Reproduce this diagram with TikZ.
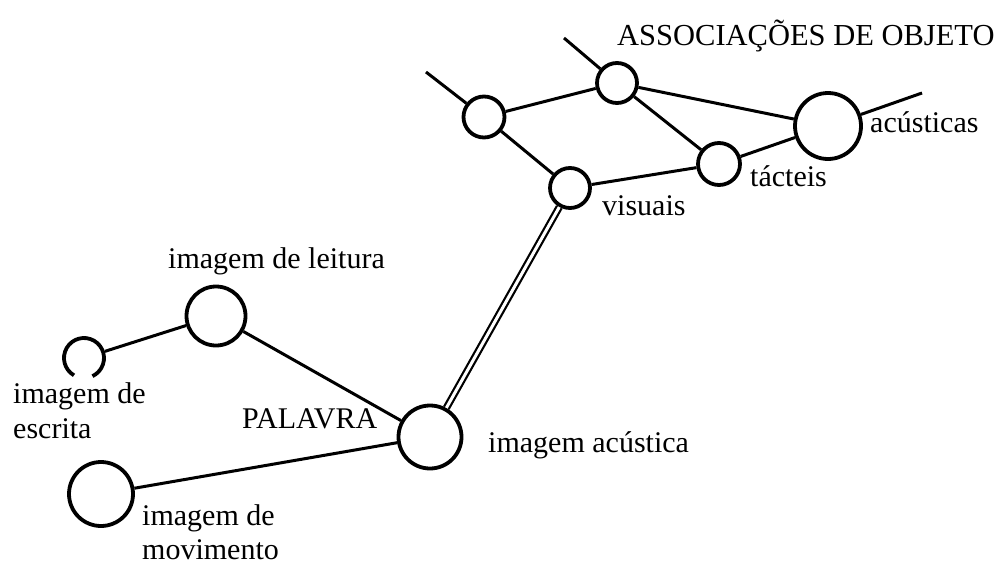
\documentclass[tikz,border=0pt]{standalone}
\usepackage{fontspec}
\setmainfont{Liberation Serif}
\begin{document}
\begin{tikzpicture}[x=1pt,y=-1pt,
  nd/.style={circle,draw,line width=3.8pt,inner sep=0pt,minimum size=#1},
  hid/.style={circle,inner sep=0pt,outer sep=0pt,minimum size=#1},
  ln/.style={line width=3pt},
  dbl/.style={line width=2.2pt,double,double distance=3pt},
  lbl/.style={anchor=base west,inner sep=0pt,font=\fontsize{30}{36}\selectfont}]
\useasboundingbox (0,0) rectangle (1000,565);
% circles
\node[nd=41] (A) at (484,117) {};
\node[nd=40] (B) at (617,83) {};
\node[nd=40] (vis) at (570,188) {};
\node[nd=42] (tac) at (719,164) {};
\node[nd=66] (acu) at (828,126) {};
\node[nd=59] (lei) at (216,316) {};
\node[nd=63] (pal) at (430,437) {};
\node[nd=64] (mov) at (101,494) {};
\node[hid=43.8] (esc) at (84,358) {};
\draw[line width=3.8pt] ([shift={(120:20)}]esc.center) arc[start angle=120,end angle=425,radius=20];
% free ends
\coordinate (fa) at (426,72);
\coordinate (fb) at (564,38);
\coordinate (fc) at (922,93);
% connectors
\draw[ln] (A) -- (fa);
\draw[ln] (B) -- (fb);
\draw[ln] (acu) -- (fc);
\draw[ln] (A) -- (B);
\draw[ln] (A) -- (vis);
\draw[ln] (B) -- (acu);
\draw[ln] (B) -- (tac);
\draw[ln] (vis) -- (tac);
\draw[ln] (tac) -- (acu);
\draw[dbl] (pal) -- (vis);
\draw[ln] (esc) -- (lei);
\draw[ln] (lei) -- (pal);
\draw[ln] (mov) -- (pal);
% labels
\node[lbl,font=\fontsize{30.5}{36}\selectfont] (title) at (617,45) {ASSOCIAÇÕES DE OBJETO};
\node[lbl] (lacu) at (870,132) {acústicas};
\node[lbl] (ltac) at (750,186) {tácteis};
\node[lbl] (lvis) at (602,215) {visuais};
\node[lbl] (llei) at (168,268) {imagem de leitura};
\node[lbl] (lesc1) at (13,403) {imagem de};
\node[lbl] (lesc2) at (13,438) {escrita};
\node[lbl] (lpal) at (242,428) {PALAVRA};
\node[lbl] (lac) at (488,452) {imagem acústica};
\node[lbl] (lmov1) at (142,525) {imagem de};
\node[lbl] (lmov2) at (142,559) {movimento};
\end{tikzpicture}
\end{document}
